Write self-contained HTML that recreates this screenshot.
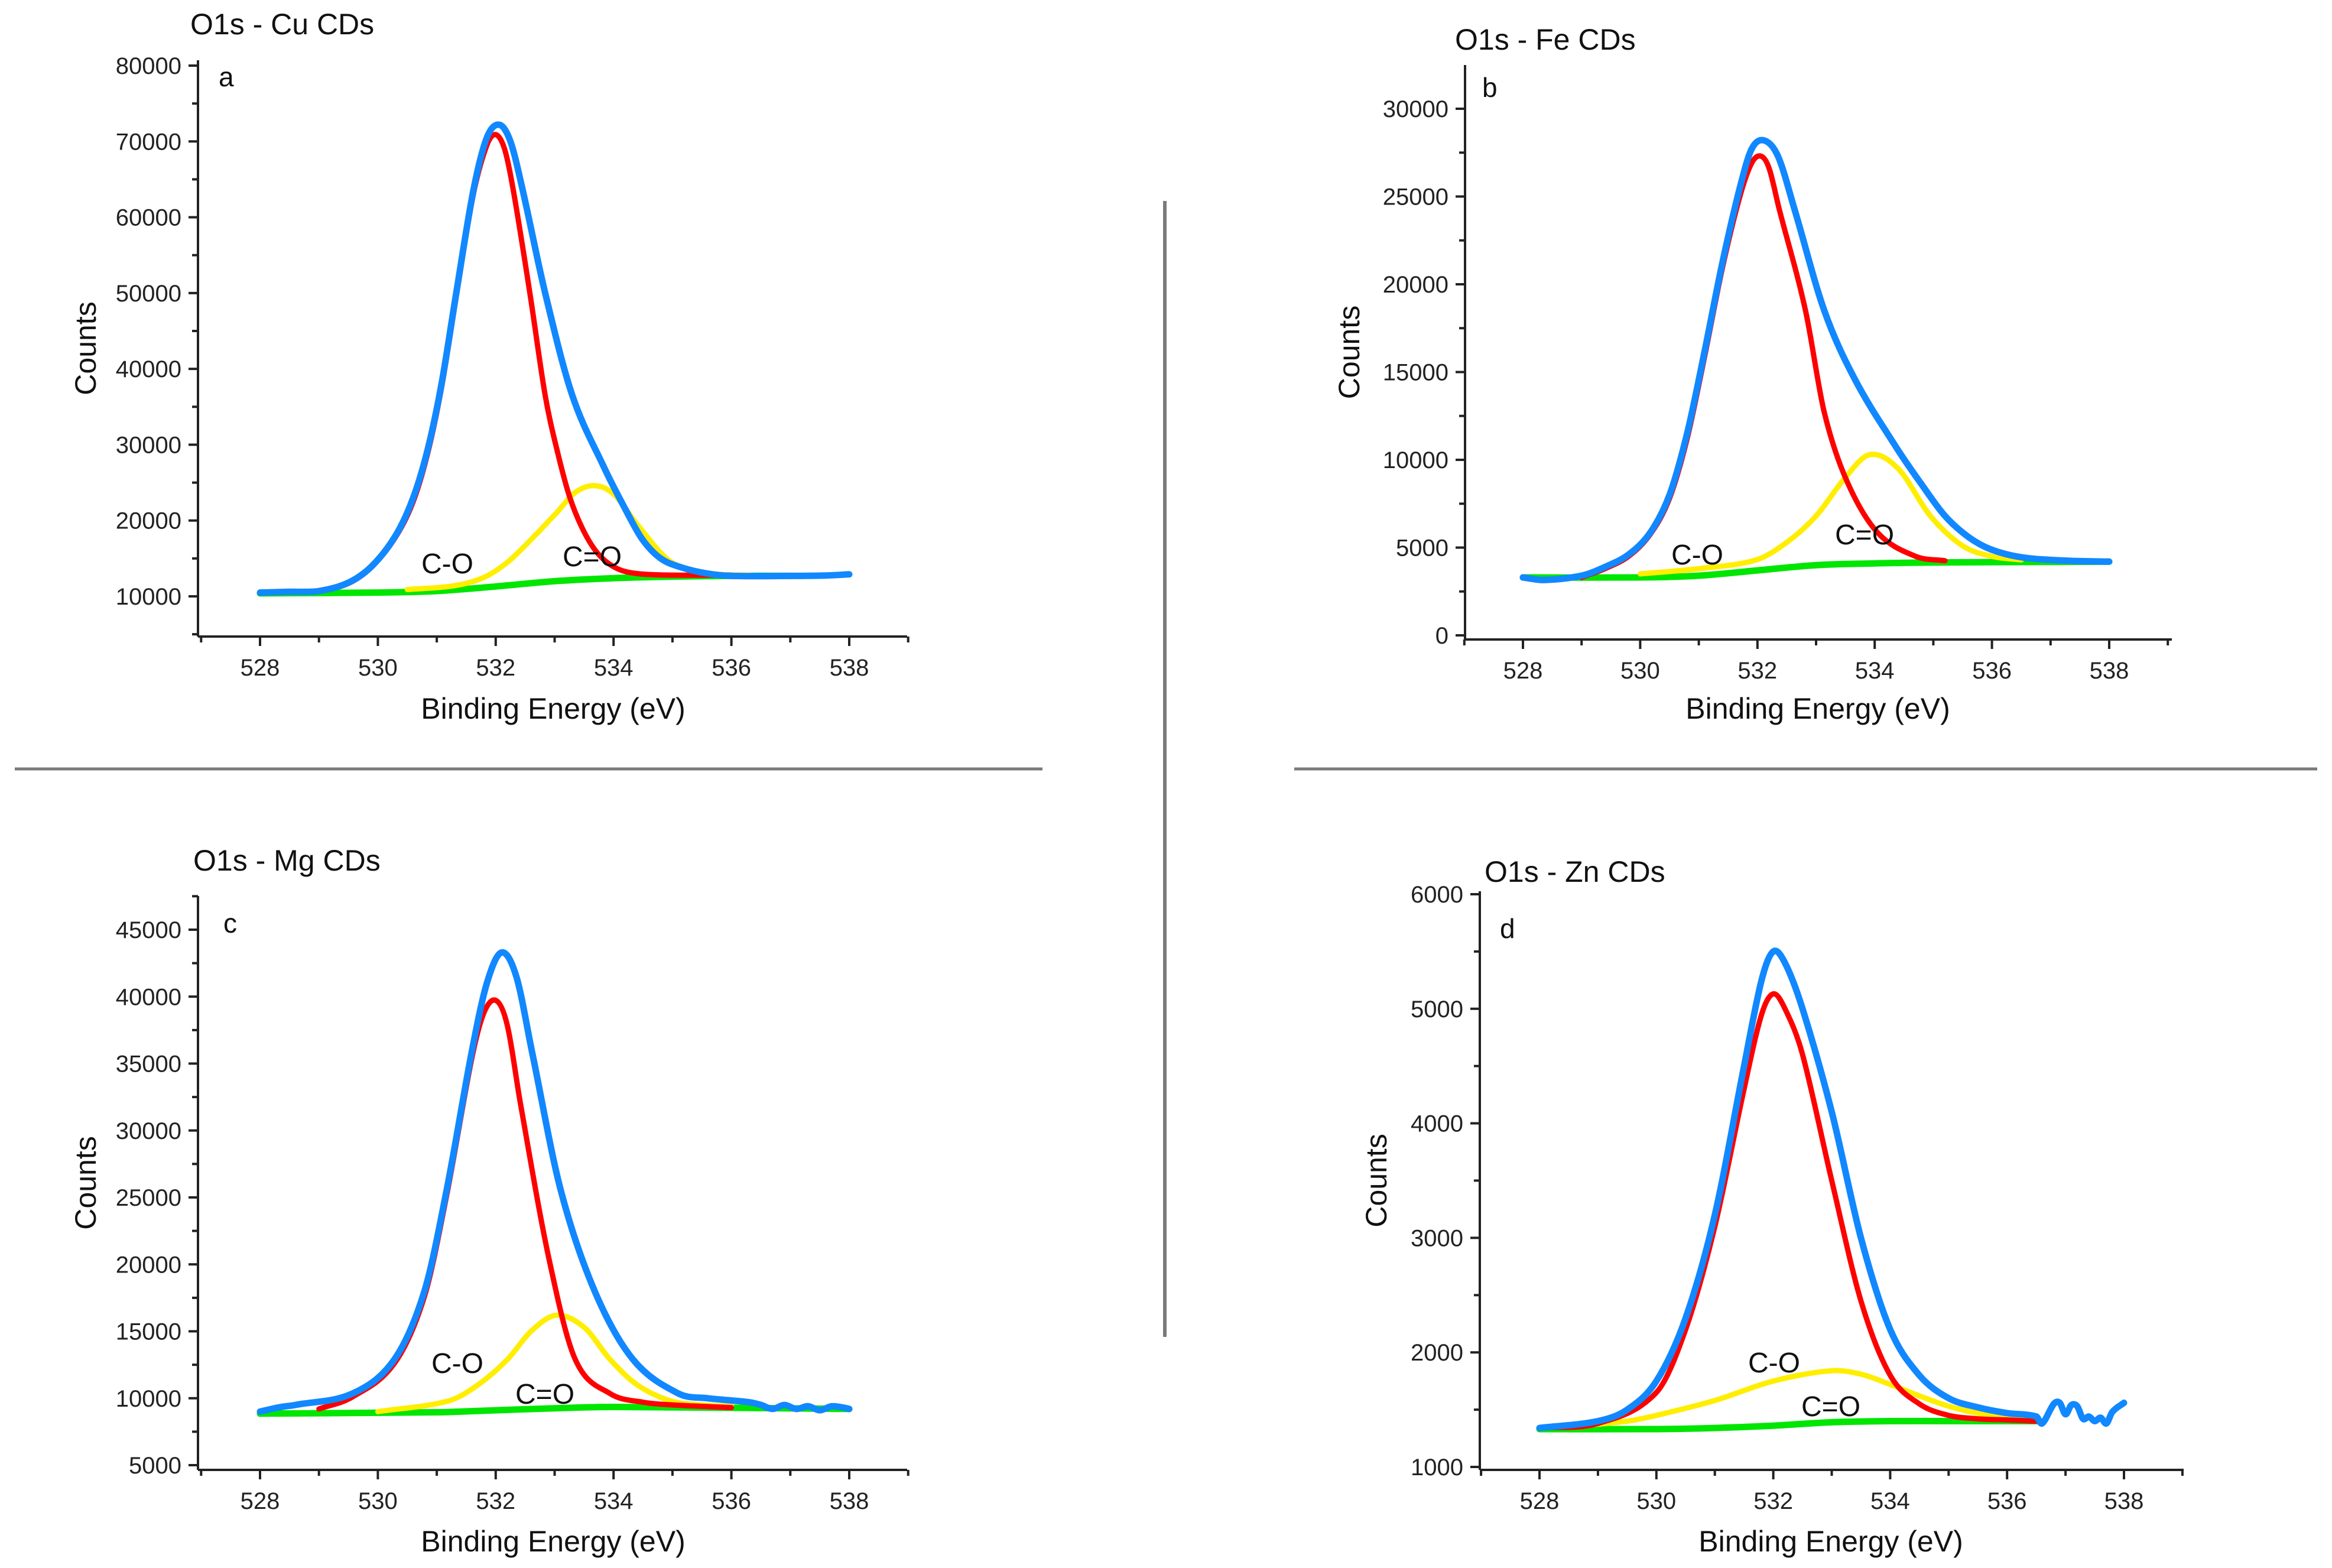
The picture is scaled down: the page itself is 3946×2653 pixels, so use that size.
<!DOCTYPE html>
<html><head><meta charset="utf-8">
<style>
html,body{margin:0;padding:0;background:#fff;}
svg{display:block;font-family:"Liberation Sans",Arial,sans-serif;}
</style></head>
<body>
<svg id="fig" width="3946" height="2653" viewBox="0 0 3946 2653" xmlns="http://www.w3.org/2000/svg">
<line x1="1971" y1="340" x2="1971" y2="2262" stroke="#7a7a7a" stroke-width="6"/>
<line x1="25" y1="1301" x2="1764" y2="1301" stroke="#7a7a7a" stroke-width="5"/>
<line x1="2190" y1="1301" x2="3921" y2="1301" stroke="#7a7a7a" stroke-width="5"/>
</svg>
<script>
// ---------- data ----------
const xTicks = [528, 530, 532, 534, 536, 538];

const aYTicks = [10000, 20000, 30000, 40000, 50000, 60000, 70000, 80000];
const aBlueX = [528,528.5,529,529.5,529.9,530.3,530.6,530.85,531.08,531.33,531.62,531.85,532.06,532.25,532.46,532.84,533.3,533.84,534.2,534.49,534.8,535.16,535.6,536,537,537.6,538];
const aBlueY = [10500,10600,10700,11800,14000,18000,23000,29500,38000,50000,63500,70500,72200,70000,63500,50000,36500,27000,21500,17500,15000,13800,13000,12700,12700,12750,12900];
const aRedX = [529,529.5,529.9,530.3,530.6,530.85,531.08,531.33,531.62,531.85,532.0,532.15,532.3,532.58,532.84,533.05,533.26,533.5,533.75,534.05,534.4,535,536];
const aRedY = [10650,11700,13900,17800,22500,29000,37500,49500,63000,69500,70900,69000,63500,50000,36500,29000,23000,18500,15500,13700,13000,12800,12800];
const aYelX = [530.5,531.3,531.8,532.2,532.6,533.03,533.35,533.68,534,534.4,534.9,535.3,535.8,536.3];
const aYelY = [10900,11400,12500,14500,17500,21000,23700,24600,23500,19500,15000,13500,12900,12800];
const aGrnX = [528,530,531,532,533,534,535,536,537];
const aGrnY = [10400,10500,10700,11300,12000,12400,12600,12700,12700];

const bYTicks = [0, 5000, 10000, 15000, 20000, 25000, 30000];
const bBlueX = [528,528.36,529,529.4,529.8,530.17,530.5,530.8,531.1,531.4,531.7,531.9,532.11,532.35,532.63,533.14,533.66,534.37,534.8,535.2,535.6,535.98,536.5,537.3,538];
const bBlueY = [3300,3150,3400,3900,4600,5850,8000,11500,16200,21200,25500,27700,28200,27300,24300,18500,14600,10700,8600,6800,5600,4900,4450,4250,4200];
const bRedX = [529,529.4,529.8,530.17,530.5,530.8,531.1,531.4,531.7,531.9,532.06,532.2,532.37,532.82,533.14,533.53,534.05,534.7,535.2];
const bRedY = [3300,3800,4500,5750,7800,11200,15900,20900,25000,26900,27300,26600,24300,18500,12700,8750,5850,4500,4250];
const bYelX = [530,531,531.98,532.5,533.0,533.5,533.92,534.4,534.95,535.5,536,536.5];
const bYelY = [3500,3800,4300,5300,6800,9000,10300,9500,6800,5100,4500,4300];
const bGrnX = [528,530,531,532,533,534,535,538];
const bGrnY = [3300,3300,3400,3700,4000,4100,4150,4200];

const cYTicks = [5000,10000,15000,20000,25000,30000,35000,40000,45000];
const cBlueX = [528,528.3,528.6,529.57,530.28,530.79,531.17,531.59,531.85,532.1,532.35,532.62,533.1,533.68,534.33,535.1,535.6,536.3,536.5,536.7,536.9,537.1,537.3,537.5,537.7,537.9,538];
const cBlueY = [9000,9300,9500,10350,12900,18000,25600,35800,41000,43300,41500,35800,25600,18000,12900,10350,10000,9700,9500,9200,9500,9200,9400,9100,9400,9300,9200];
const cRedX = [529,529.57,530.28,530.79,531.17,531.59,531.8,532.01,532.2,532.42,532.9,533.35,533.94,534.5,535.0,536];
const cRedY = [9200,10100,12600,17600,25200,35300,38800,39700,37800,32000,20500,12900,10350,9700,9500,9300];
const cYelX = [530,531.2,531.7,532.2,532.6,533.03,533.5,533.94,534.4,534.97,535.5,536];
const cYelY = [9000,9800,11000,12900,15000,16200,15300,12900,11000,9800,9500,9400];
const cGrnX = [528,531,532,533,534,538];
const cGrnY = [8850,8950,9100,9250,9350,9200];

const dYTicks = [1000,2000,3000,4000,5000,6000];
const dBlueX = [528,529,529.5,530,530.5,531,531.5,531.8,532,532.2,532.5,533,533.5,534,534.5,535,535.5,536,536.5,536.6,536.8,536.9,537,537.1,537.2,537.3,537.4,537.5,537.6,537.7,537.8,538];
const dBlueY = [1340,1400,1500,1750,2300,3200,4500,5250,5500,5400,5000,4100,3000,2200,1800,1600,1520,1470,1440,1380,1550,1560,1460,1540,1530,1420,1440,1400,1430,1380,1480,1560];
const dRedX = [528,529,530,530.5,531,531.5,531.8,532,532.2,532.5,533,533.5,534,534.5,535,535.5,536,536.5];
const dRedY = [1340,1380,1650,2200,3100,4300,4950,5130,5000,4600,3500,2450,1800,1550,1450,1420,1410,1400];
const dYelX = [528.5,529.5,530,531,532,533,533.5,534,534.5,535,535.5,536,536.5];
const dYelY = [1350,1400,1450,1580,1750,1840,1810,1720,1620,1530,1470,1440,1420];
const dGrnX = [528,530,531,532,533,534,535,536.5];
const dGrnY = [1330,1330,1340,1360,1390,1400,1400,1400];

// ---------- layout ----------
const NS = "http://www.w3.org/2000/svg";
const svg = document.getElementById('fig');
function el(tag, attrs, parent){ const e=document.createElementNS(NS,tag); for(const k in attrs) e.setAttribute(k,attrs[k]); (parent||svg).appendChild(e); return e; }

const panels = [
 {id:'a', title:'O1s - Cu CDs', left:335, bottom:1077, right:1535, top:102, x528:440, x538:1437, ya:10000, ypa:1009, yb:80000, ypb:111, minor:5000, yTicks:aYTicks,
  tx:322, ty:58, lx:370, ly:146, cx:162, ex:936, ey:1216,
  series:[[aGrnX,aGrnY,'#00e600',11],[aYelX,aYelY,'#ffee00',9],[aRedX,aRedY,'#ff0000',9],[aBlueX,aBlueY,'#1188ff',11]],
  labels:[['C-O',713,970],['C=O',952,958]]},
 {id:'b', title:'O1s - Fe CDs', left:2479, bottom:1082, right:3675, top:110, x528:2577, x538:3569, ya:0, ypa:1075, yb:30000, ypb:184, minor:2500, yTicks:bYTicks,
  tx:2462, ty:84, lx:2508, ly:164, cx:2300, ex:3076, ey:1216,
  series:[[bGrnX,bGrnY,'#00e600',11],[bYelX,bYelY,'#ffee00',9],[bRedX,bRedY,'#ff0000',9],[bBlueX,bBlueY,'#1188ff',11]],
  labels:[['C-O',2828,955],['C=O',3105,921]]},
 {id:'c', title:'O1s - Mg CDs', left:335, bottom:2487, right:1535, top:1516, x528:440, x538:1437, ya:5000, ypa:2479, yb:45000, ypb:1573, minor:2500, yTicks:cYTicks,
  tx:327, ty:1473, lx:378, ly:1578, cx:162, ex:936, ey:2625,
  series:[[cGrnX,cGrnY,'#00e600',11],[cYelX,cYelY,'#ffee00',9],[cRedX,cRedY,'#ff0000',9],[cBlueX,cBlueY,'#1188ff',11]],
  labels:[['C-O',730,2323],['C=O',872,2375]]},
 {id:'d', title:'O1s - Zn CDs', left:2504, bottom:2487, right:3695, top:1508, x528:2605, x538:3594, ya:1000, ypa:2482, yb:6000, ypb:1513, minor:500, yTicks:dYTicks,
  tx:2512, ty:1492, lx:2538, ly:1587, cx:2346, ex:3098, ey:2625,
  series:[[dGrnX,dGrnY,'#00e600',11],[dYelX,dYelY,'#ffee00',9],[dRedX,dRedY,'#ff0000',9],[dBlueX,dBlueY,'#1188ff',11]],
  labels:[['C-O',2958,2322],['C=O',3048,2396]]}
];

function smoothPath(pts){
  const n=pts.length, m=[];
  for(let i=0;i<n;i++){
    const a=pts[Math.max(0,i-1)], b=pts[Math.min(n-1,i+1)];
    m.push((b[1]-a[1])/(b[0]-a[0]));
  }
  let d='M'+pts[0][0].toFixed(1)+','+pts[0][1].toFixed(1);
  for(let i=0;i<n-1;i++){
    const p1=pts[i],p2=pts[i+1],h=(p2[0]-p1[0])/3;
    d+=' C'+(p1[0]+h).toFixed(1)+','+(p1[1]+m[i]*h).toFixed(1)+' '+(p2[0]-h).toFixed(1)+','+(p2[1]-m[i+1]*h).toFixed(1)+' '+p2[0].toFixed(1)+','+p2[1].toFixed(1);
  }
  return d;
}
const names=['background','c-o-component','c-eq-o-component','envelope'];

panels.forEach(p=>{
  const g=el('g',{});
  
  
  const X=v=>p.x528+(v-528)*(p.x538-p.x528)/10;
  const Y=v=>p.ypa+(v-p.ya)*(p.ypb-p.ypa)/(p.yb-p.ya);
  const t=el('text',{x:p.tx,y:p.ty,'font-size':50,fill:'#111'},g); t.textContent=p.title;
   
  const l=el('text',{x:p.lx,y:p.ly,'font-size':46,fill:'#111'},g); l.textContent=p.id;
   
  const ax=el('line',{x1:p.left,y1:p.bottom,x2:p.right,y2:p.bottom,stroke:'#222','stroke-width':4},g);
   
  const ay=el('line',{x1:p.left,y1:p.bottom,x2:p.left,y2:p.top,stroke:'#222','stroke-width':4},g);
   
  for(let v=527; v<=539; v++){
    const major=(v%2===0);
    el('line',{x1:X(v),y1:p.bottom,x2:X(v),y2:p.bottom+(major?16:10),stroke:'#222','stroke-width':4},g);
  }
  xTicks.forEach(v=>{
    const tt=el('text',{x:X(v),y:p.bottom+66,'font-size':40,'text-anchor':'middle',fill:'#222'},g); tt.textContent=v;
     
  });
  const yMin=p.ya+(p.bottom-p.ypa)/(p.ypb-p.ypa)*(p.yb-p.ya);
  const yMax=p.ya+(p.top-p.ypa)/(p.ypb-p.ypa)*(p.yb-p.ya);
  for(let v=Math.ceil(yMin/p.minor)*p.minor; v<=yMax; v+=p.minor){
    const major=p.yTicks.includes(v);
    el('line',{x1:p.left,y1:Y(v),x2:p.left-(major?16:10),y2:Y(v),stroke:'#222','stroke-width':4},g);
  }
  p.yTicks.forEach(v=>{
    const tt=el('text',{x:p.left-28,y:Y(v)+14,'font-size':40,'text-anchor':'end',fill:'#222'},g); tt.textContent=v;
     
  });
  const cy=(p.top+p.bottom)/2;
  const yt=el('text',{x:p.cx,y:cy,'font-size':50,'text-anchor':'middle',fill:'#111',transform:'rotate(-90 '+p.cx+' '+cy+')'},g);
  yt.textContent='Counts';
   
  const xt=el('text',{x:p.ex,y:p.ey,'font-size':50,'text-anchor':'middle',fill:'#111'},g);
  xt.textContent='Binding Energy (eV)';
   
  p.series.forEach((s,i)=>{
    const pts=s[0].map((x,k)=>[X(x),Y(s[1][k])]);
    const path=el('path',{d:smoothPath(pts),fill:'none',stroke:s[2],'stroke-width':s[3],'stroke-linecap':'round','stroke-linejoin':'round'},g);
    
    
  });
  p.labels.forEach(lb=>{
    const tl=el('text',{x:lb[1],y:lb[2],'font-size':48,fill:'#111'},g); tl.textContent=lb[0];
     
  });
});
</script>
</body></html>
